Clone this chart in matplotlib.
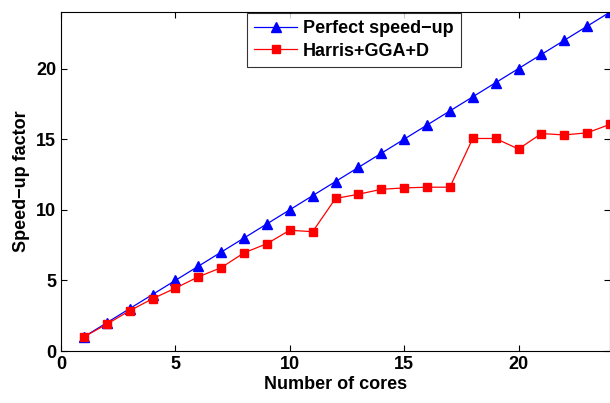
import matplotlib
matplotlib.use("Agg")
import matplotlib.pyplot as plt

cores = list(range(1, 25))
perfect = [float(c) for c in cores]
harris = [1.0, 1.9, 2.85, 3.7, 4.45, 5.25, 5.9, 6.95, 7.6, 8.55, 8.45, 10.8,
          11.1, 11.45, 11.55, 11.6, 11.6, 15.05, 15.05, 14.3, 15.4, 15.3, 15.45, 16.05]
xticks = [0, 5, 10, 15, 20]
yticks = [0, 5, 10, 15, 20]

plt.rcParams['font.family'] = ['Liberation Sans', 'DejaVu Sans']
plt.rcParams['font.weight'] = 'bold'

fig = plt.figure(figsize=(6.1, 4.03), dpi=100)
ax = fig.add_axes([0.1, 0.129, 0.9, 0.841])
ax.plot(cores, perfect, color='blue', marker='^', markersize=7.5, linewidth=0.9, label='Perfect speed\u2212up')
ax.plot(cores, harris, color='red', marker='s', markersize=6, linewidth=0.9, label='Harris+GGA+D')
ax.set_xlim(0, 24)
ax.set_ylim(0, 24)
ax.set_xticks(xticks)
ax.set_yticks(yticks)
ax.tick_params(direction='in', top=True, right=True, labelsize=13, width=0.8, length=4)
for lab in ax.get_xticklabels() + ax.get_yticklabels():
    lab.set_fontweight('bold')
ax.set_xlabel('Number of cores', fontsize=13, fontweight='bold', labelpad=2)
ax.set_ylabel('Speed\u2212up factor', fontsize=13, fontweight='bold', labelpad=4)
leg = ax.legend(loc='upper left', bbox_to_anchor=(0.337, 1.0), fontsize=13, frameon=True,
                fancybox=False, edgecolor='black', borderpad=0.4, handlelength=2.4,
                labelspacing=0.3, handletextpad=0.3, borderaxespad=0.05)
leg.get_frame().set_linewidth(0.8)
for t in leg.get_texts():
    t.set_fontweight('bold')
fig.savefig('out.png', dpi=100)
